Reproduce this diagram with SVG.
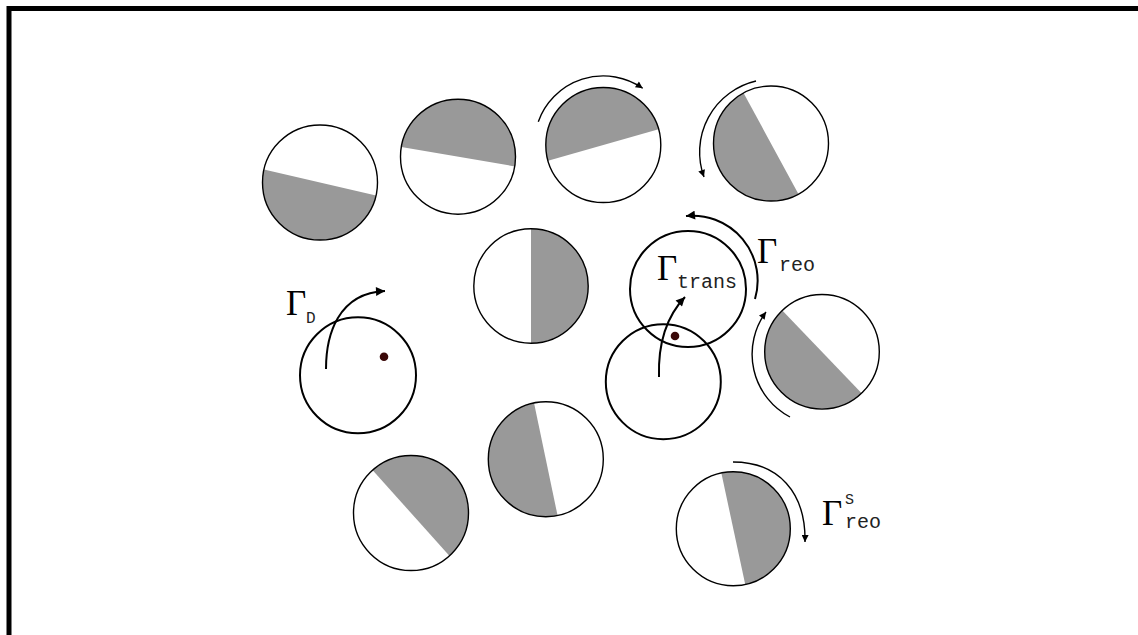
<svg xmlns="http://www.w3.org/2000/svg" width="1138" height="635" viewBox="0 0 1138 635">
<style>
.c{fill:none;stroke:#000;stroke-width:1.4}
.ct{fill:none;stroke:#000;stroke-width:2}
.h{fill:#999999;stroke:none}
.a{fill:none;stroke:#000;stroke-width:1.4}
.at{fill:none;stroke:#000;stroke-width:2}
.dot{fill:#3a0808}
.g{font-family:"Liberation Serif",serif;font-size:35px;fill:#000}
.s{font-family:"Liberation Mono",monospace;font-size:20px;fill:#222}
.s2{font-family:"Liberation Mono",monospace;font-size:15px;fill:#222}
</style>
<defs>
<marker id="ah" viewBox="0 0 10 10" refX="10" refY="5" markerWidth="11" markerHeight="9" orient="auto" markerUnits="userSpaceOnUse"><path d="M0,0 L10,5 L0,10 z" fill="#000"/></marker>
<marker id="ahs" viewBox="0 0 10 10" refX="10" refY="5" markerWidth="9" markerHeight="7" orient="auto" markerUnits="userSpaceOnUse"><path d="M0,0 L10,5 L0,10 z" fill="#000"/></marker>
</defs>
<rect width="1138" height="635" fill="#fff"/>
<path d="M9,640 V8.5 H1140" fill="none" stroke="#000" stroke-width="5"/>

<g id="p1"><path class="h" transform="translate(320,182.5) rotate(193)" d="M-57.5,0 A57.5,57.5 0 0 1 57.5,0 Z"/><circle class="c" cx="320" cy="182.5" r="57.5"/></g>
<g id="p2"><path class="h" transform="translate(458,156.7) rotate(9.7)" d="M-57.5,0 A57.5,57.5 0 0 1 57.5,0 Z"/><circle class="c" cx="458" cy="156.7" r="57.5"/></g>
<g id="p3"><path class="h" transform="translate(603.3,145) rotate(-16)" d="M-57.5,0 A57.5,57.5 0 0 1 57.5,0 Z"/><circle class="c" cx="603.3" cy="145" r="57.5"/></g>
<g id="p4"><path class="h" transform="translate(771,143.5) rotate(241.5)" d="M-57.5,0 A57.5,57.5 0 0 1 57.5,0 Z"/><circle class="c" cx="771" cy="143.5" r="57.5"/></g>
<g id="p5"><path class="h" transform="translate(531,286) rotate(90)" d="M-57.2,0 A57.2,57.2 0 0 1 57.2,0 Z"/><circle class="c" cx="531" cy="286" r="57.2"/></g>
<g id="p6"><path class="h" transform="translate(822,351.8) rotate(226.2)" d="M-57.3,0 A57.3,57.3 0 0 1 57.3,0 Z"/><circle class="c" cx="822" cy="351.8" r="57.3"/></g>
<g id="p7"><path class="h" transform="translate(411,513) rotate(48.2)" d="M-57.5,0 A57.5,57.5 0 0 1 57.5,0 Z"/><circle class="c" cx="411" cy="513" r="57.5"/></g>
<g id="p8"><path class="h" transform="translate(545.8,459.2) rotate(258.2)" d="M-57.5,0 A57.5,57.5 0 0 1 57.5,0 Z"/><circle class="c" cx="545.8" cy="459.2" r="57.5"/></g>
<g id="p9"><path class="h" transform="translate(733.3,528.8) rotate(77.9)" d="M-57,0 A57,57 0 0 1 57,0 Z"/><circle class="c" cx="733.3" cy="528.8" r="57"/></g>

<g id="pD"><circle class="ct" cx="358" cy="375.3" r="58"/><circle class="dot" cx="384" cy="356.7" r="4.3"/></g>
<g id="pT1"><circle class="ct" cx="663.3" cy="381.7" r="57.5"/><circle class="dot" cx="675" cy="336" r="4.3"/></g>
<g id="pT2"><circle class="ct" cx="688" cy="289" r="58"/></g>

<g id="connectors">
<path class="at" d="M326,369 C326,335 338,293 385,291" marker-end="url(#ah)"/>
<path class="at" d="M659,377 C658,345 665,318 685,297" marker-end="url(#ah)"/>
<path class="at" d="M755,299 A65,65 0 0 0 686,216" marker-end="url(#ah)"/>
<path class="a" d="M790,417 A71,71 0 0 1 766,312" marker-end="url(#ahs)"/>
<path class="a" d="M538.3,121.7 A69,69 0 0 1 642.7,88.3" marker-end="url(#ahs)"/>
<path class="a" d="M756,81 A73,73 0 0 0 704,177" marker-end="url(#ahs)"/>
<path class="a" d="M733,462 C778,462 806,492 805,542" marker-end="url(#ahs)"/>
</g>

<g id="labels">
<text class="g" x="286" y="315">Γ</text><text class="s2" x="306" y="323" style="font-size:16px">D</text>
<text class="g" x="657" y="280">Γ</text><text class="s" x="677" y="288">trans</text>
<text class="g" x="757" y="263">Γ</text><text class="s" x="779" y="271">reo</text>
<text class="g" x="822" y="525">Γ</text><text class="s2" x="845" y="504">S</text><text class="s" x="845" y="528">reo</text>
</g>
</svg>
